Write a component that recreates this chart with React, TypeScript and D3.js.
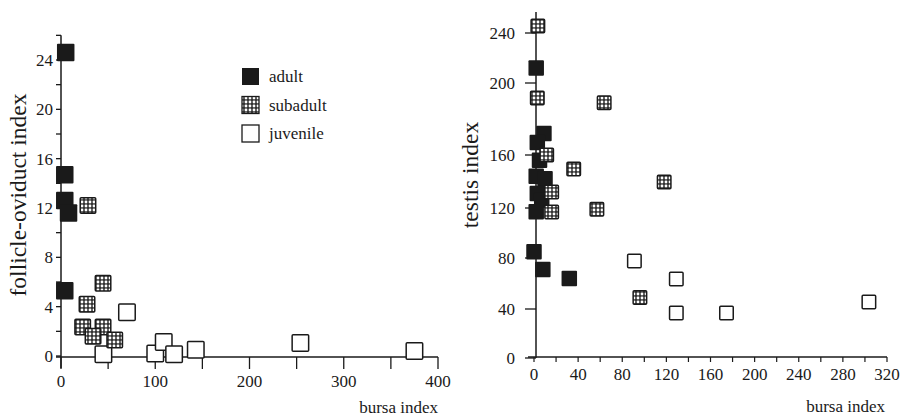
import React from "react";
import * as d3 from "d3";

// ---- Left panel data: bursa index vs follicle-oviduct index ----
const adultLeftX = [5, 4, 4, 8, 4];
const adultLeftY = [24.6, 14.7, 12.6, 11.6, 5.3];
const subadultLeftX = [28.6, 44.6, 27.6, 23, 44.6, 34, 57];
const subadultLeftY = [12.2, 5.9, 4.2, 2.35, 2.35, 1.6, 1.3];
const juvenileLeftX = [70, 45, 100, 109, 120, 143, 254, 375];
const juvenileLeftY = [3.55, 0.15, 0.2, 1.13, 0.15, 0.5, 1.05, 0.4];

// ---- Right panel data: bursa index vs testis index ----
const adultRightX = [2, 9, 3, 5, 2, 10, 3, 7, 2, 0, 8, 32];
const adultRightY = [212, 172, 167, 156, 144, 142, 131, 126, 117, 85, 71, 64];
const subadultRightX = [3.5, 3, 63.6, 11.5, 36, 16, 16, 57, 118, 96];
const subadultRightY = [245.6, 191.7, 189, 160, 149.4, 132, 116.8, 119, 139.6, 49];
const juvenileRightX = [91, 129, 129, 174.5, 303.6];
const juvenileRightY = [77.6, 63.5, 36.7, 36.7, 45.5];

// ---- Ticks ----
const leftXTickLabels = [0, 100, 200, 300, 400];
const leftXTicks = [0, 50, 100, 150, 200, 250, 300, 350, 400];
const leftYTickLabels = [0, 4, 8, 12, 16, 20, 24];
const leftYTicks = [0, 2, 4, 6, 8, 10, 12, 14, 16, 18, 20, 22, 24, 26];
const rightXTickLabels = [0, 40, 80, 120, 160, 200, 240, 280, 320];
const rightXTicks = [0, 20, 40, 60, 80, 100, 120, 140, 160, 180, 200, 220, 240, 260, 280, 300, 320];
const rightYTickLabels = [0, 40, 80, 120, 160, 200, 240];

const legendItems = ["adult", "subadult", "juvenile"];

const FONT = "Liberation Serif, DejaVu Serif, serif";
const INK = "#1a1a1a";
const TXT: React.CSSProperties = { fontFamily: FONT };

function zip(xs: number[], ys: number[]) {
  return xs.map((x, i) => [x, ys[i]] as [number, number]);
}

export default function App() {
  // left scales
  const lx = d3.scaleLinear().domain([0, 400]).range([61, 438]);
  const ly = d3.scaleLinear().domain([0, 24]).range([356, 60]);
  // right scales (the printed axis is irregular; a polylinear scale follows it)
  const rx = d3.scaleLinear().domain([0, 320]).range([534, 887]);
  const ry = d3
    .scaleLinear()
    .domain([0, 40, 80, 120, 160, 200, 240])
    .range([358, 309, 258, 208, 155, 83, 33]);

  const fillFor = (k: string) =>
    k === "adult" ? INK : k === "subadult" ? "url(#dots)" : "#fff";
  const strokeFor = (k: string) => (k === "adult" ? "none" : INK);

  const square = (cx: number, cy: number, s: number, kind: string, key: string) => (
    <rect
      key={key}
      x={cx - s / 2}
      y={cy - s / 2}
      width={s}
      height={s}
      rx={1}
      fill={fillFor(kind)}
      stroke={strokeFor(kind)}
      strokeWidth={1.5}
    />
  );

  return (
    <svg
      width={900}
      height={419}
      style={{ position: "absolute", left: 0, top: 0, background: "#fff", fontFamily: FONT }}
    >
      <defs>
        <pattern id="dots" width={4} height={4} patternUnits="userSpaceOnUse">
          <rect width={4} height={4} fill="#333" />
          <circle cx={2} cy={2} r={1.4} fill="#fff" />
        </pattern>
      </defs>

      {/* ===== LEFT PANEL ===== */}
      <g>
        <line x1={lx(0)} x2={lx(0)} y1={ly(26)} y2={ly(0) + 12} stroke={INK} strokeWidth={1.5} />
        <line x1={56} x2={lx(400)} y1={ly(0) + 1} y2={ly(0) + 1} stroke={INK} strokeWidth={1.5} />
        {leftYTicks.map((t) => (
          <line key={"lyt" + t} x1={lx(0) - 5} x2={lx(0)} y1={ly(t)} y2={ly(t)} stroke={INK} strokeWidth={1.3} />
        ))}
        {leftYTickLabels.map((t) => (
          <text key={"lyl" + t} style={TXT} x={53} y={ly(t)} dy="0.35em" textAnchor="end" fontSize={17} fill={INK}>
            {t}
          </text>
        ))}
        {leftXTicks.map((t) => (
          <line key={"lxt" + t} x1={lx(t)} x2={lx(t)} y1={ly(0) + 1} y2={ly(0) + 13} stroke={INK} strokeWidth={1.3} />
        ))}
        {leftXTickLabels.map((t) => (
          <text key={"lxl" + t} style={TXT} x={lx(t)} y={387} textAnchor="middle" fontSize={17} fill={INK}>
            {t}
          </text>
        ))}
        <text style={TXT} x={438} y={413} textAnchor="end" fontSize={17} fill={INK}>
          bursa index
        </text>
        <text
          style={TXT}
          transform={`translate(26,195) rotate(-90)`}
          textAnchor="middle"
          fontSize={23.5}
          fill={INK}
        >
          follicle-oviduct index
        </text>

        {/* legend */}
        {legendItems.map((k, i) => (
          <g key={"leg" + k}>
            <rect
              x={242}
              y={68 + i * 28.5}
              width={17}
              height={17}
              fill={fillFor(k)}
              stroke={strokeFor(k)}
              strokeWidth={1.3}
            />
            <text style={TXT} x={269} y={82 + i * 28.5} fontSize={17} fill={INK}>
              {k}
            </text>
          </g>
        ))}

        {zip(juvenileLeftX, juvenileLeftY).map(([x, y], i) => square(lx(x), ly(y), 16.5, "juvenile", "jl" + i))}
        {zip(subadultLeftX, subadultLeftY).map(([x, y], i) => square(lx(x), ly(y), 15.5, "subadult", "sl" + i))}
        {zip(adultLeftX, adultLeftY).map(([x, y], i) => square(lx(x), ly(y), 17.5, "adult", "al" + i))}
      </g>

      {/* ===== RIGHT PANEL ===== */}
      <g>
        <line x1={rx(0) + 2} x2={rx(0) + 2} y1={12} y2={358} stroke={INK} strokeWidth={1.5} />
        <line x1={528} x2={rx(320)} y1={357} y2={357} stroke={INK} strokeWidth={1.5} />
        {rightYTickLabels.map((t) => (
          <line key={"ryt" + t} x1={rx(0) - 9} x2={rx(0) + 2} y1={ry(t)} y2={ry(t)} stroke={INK} strokeWidth={1.3} />
        ))}
        {rightYTickLabels.map((t) => (
          <text key={"ryl" + t} style={TXT} x={515} y={ry(t)} dy="0.35em" textAnchor="end" fontSize={17} fill={INK}>
            {t}
          </text>
        ))}
        {rightXTicks.map((t) => (
          <line key={"rxt" + t} x1={rx(t)} x2={rx(t)} y1={357} y2={362} stroke={INK} strokeWidth={1.2} />
        ))}
        {rightXTickLabels.map((t) => (
          <text key={"rxl" + t} style={TXT} x={rx(t)} y={380} textAnchor="middle" fontSize={17} fill={INK}>
            {t}
          </text>
        ))}
        <text style={TXT} x={885} y={412} textAnchor="end" fontSize={17} fill={INK}>
          bursa index
        </text>
        <text
          style={TXT}
          transform={`translate(478,175) rotate(-90)`}
          textAnchor="middle"
          fontSize={23.5}
          fill={INK}
        >
          testis index
        </text>

        {zip(juvenileRightX, juvenileRightY).map(([x, y], i) => square(rx(x), ry(y), 13.5, "juvenile", "jr" + i))}
        {zip(adultRightX, adultRightY).map(([x, y], i) => square(rx(x), ry(y), 15.5, "adult", "ar" + i))}
        {zip(subadultRightX, subadultRightY).map(([x, y], i) => square(rx(x), ry(y), 13.5, "subadult", "sr" + i))}
      </g>
    </svg>
  );
}
